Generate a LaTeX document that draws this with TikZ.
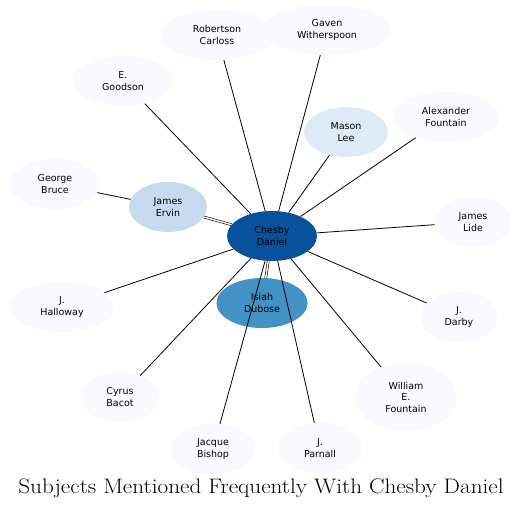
\documentclass[tikz,border=0pt]{standalone}
\usepackage{fontspec}
\setsansfont{DejaVu Sans}
\usetikzlibrary{shapes.geometric}
\definecolor{c0}{HTML}{F7FBFF}
\definecolor{c1}{HTML}{DEEBF7}
\definecolor{c2}{HTML}{C6DBEF}
\definecolor{c3}{HTML}{4292C6}
\definecolor{c4}{HTML}{08519C}
\tikzset{
  person/.style={ellipse, draw=none, fill=c0, inner sep=0pt, align=center,
    font=\sffamily\fontsize{9.5}{11.5}\selectfont},
  link/.style={draw=black, line width=0.8pt},
  dbl/.style={draw=black, line width=0.6pt, double=white, double distance=1.4pt},
}
\newcommand{\pnode}[6]{\node[person, minimum width=#4pt, minimum height=#5pt, fill=#6] (#1) at (#2,#3)}
\begin{document}
\begin{tikzpicture}[x=1pt,y=-1pt]
\useasboundingbox (0,0) rectangle (528,510);
\fill[white] (0,0) rectangle (528,510);
% nodes
\pnode{cd}{272}{236}{90}{50}{c4}{Chesby\\Daniel};
\pnode{id}{262}{303}{91}{50}{c3}{Isiah\\Dubose};
\pnode{je}{168}{207}{78}{50}{c2}{James\\Ervin};
\pnode{ml}{346}{132}{84}{50}{c1}{Mason\\Lee};
\pnode{gb}{55}{184}{90}{50}{c0}{George\\Bruce};
\pnode{jl}{473}{222}{77}{50}{c0}{James\\Lide};
\pnode{jh}{62}{307}{103}{50}{c0}{J.\\Halloway};
\pnode{jd}{459}{317}{77}{50}{c0}{J.\\Darby};
\pnode{af}{446}{117}{107}{50}{c0}{Alexander\\Fountain};
\pnode{gw}{327}{30}{128}{50}{c0}{Gaven\\Witherspoon};
\pnode{rc}{217}{35}{113}{50}{c0}{Robertson\\Carloss};
\pnode{eg}{123}{81}{100}{50}{c0}{E.\\Goodson};
\pnode{cb}{120}{397}{76}{50}{c0}{Cyrus\\Bacot};
\pnode{jb}{213}{449}{84}{50}{c0}{Jacque\\Bishop};
\pnode{jp}{320}{448}{84}{50}{c0}{J.\\Parnall};
\pnode{wf}{406}{397}{101}{68}{c0}{William\\E.\\Fountain};
% edges
\draw[link] (cd) -- (eg);
\draw[link] (cd) -- (rc);
\draw[link] (cd) -- (gw);
\draw[link] (cd) -- (ml);
\draw[link] (cd) -- (af);
\draw[link] (cd) -- (jl);
\draw[link] (cd) -- (jd);
\draw[link] (cd) -- (wf);
\draw[link] (cd) -- (jp);
\draw[link] (cd) -- (jb);
\draw[link] (cd) -- (cb);
\draw[link] (cd) -- (jh);
\draw[link] (je) -- (gb);
\draw[dbl] (cd) -- (je);
\draw[dbl] (cd) -- (id);
% title
\node[anchor=base, font=\fontsize{21}{25}\selectfont, inner sep=0pt] (title) at (261,494) {\scalebox{1.104}[1]{Subjects Mentioned Frequently With Chesby Daniel}};
\end{tikzpicture}
\end{document}
